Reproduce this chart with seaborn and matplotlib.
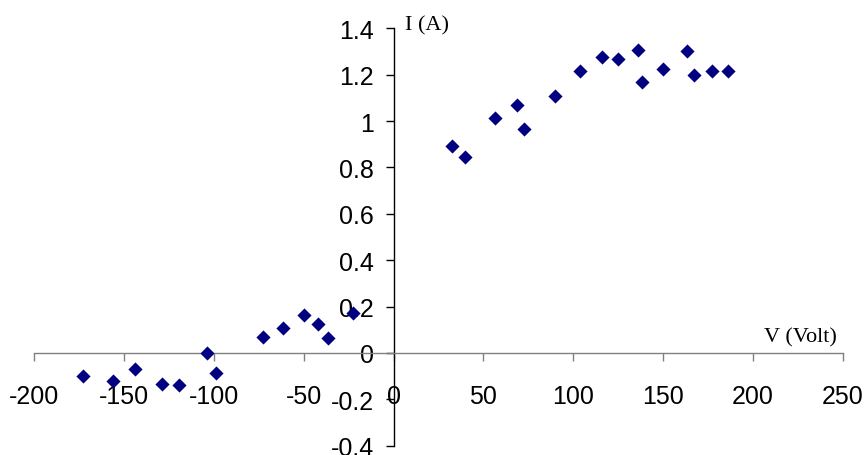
import numpy as np
import pandas as pd
import matplotlib
matplotlib.use('Agg')
import matplotlib.pyplot as plt
import seaborn as sns

voltage = [-172.9, -155.9, -144.0, -128.9, -119.5, -103.7, -98.6, -72.6, -61.6,
           -49.8, -42.3, -36.2, -22.3, 32.6, 39.8, 56.7, 68.6, 72.7, 89.8,
           103.8, 115.7, 124.8, 135.7, 138.0, 149.9, 163.0, 166.9, 176.9, 186.0]
current = [-0.100, -0.122, -0.069, -0.132, -0.139, 0.000, -0.085, 0.069, 0.106,
           0.162, 0.124, 0.063, 0.171, 0.891, 0.843, 1.014, 1.068, 0.967, 1.106,
           1.215, 1.277, 1.268, 1.307, 1.168, 1.223, 1.300, 1.198, 1.215, 1.215]

x_ticks = [-200, -150, -100, -50, 0, 50, 100, 150, 200, 250]
x_tick_labels = ['-200', '-150', '-100', '-50', '0', '50', '100', '150', '200', '250']
y_ticks = [-0.4, -0.2, 0, 0.2, 0.4, 0.6, 0.8, 1.0, 1.2, 1.4]
y_tick_labels = ['-0.4', '-0.2', '0', '0.2', '0.4', '0.6', '0.8', '1', '1.2', '1.4']

df = pd.DataFrame({'V': voltage, 'I': current})

sns.set_style('white')
plt.rcParams['font.family'] = ['Liberation Sans', 'DejaVu Sans']

fig = plt.figure(figsize=(8.66, 4.56), dpi=100)
ax = fig.add_axes([34 / 866, 9.3 / 456, 809 / 866, 417.4 / 456])

sns.scatterplot(data=df, x='V', y='I', marker='D', s=52, color='#000080',
                linewidth=0, ax=ax, legend=False, zorder=3, clip_on=False)

ax.set_xlim(-200, 250)
ax.set_ylim(-0.4, 1.4)
ax.set_xticks(x_ticks)
ax.set_xticklabels(x_tick_labels)
ax.set_yticks(y_ticks)
ax.set_yticklabels(y_tick_labels)

# axes crossing at the origin
ax.spines['left'].set_position(('data', 0))
ax.spines['bottom'].set_position(('data', 0))
ax.spines['top'].set_visible(False)
ax.spines['right'].set_visible(False)
ax.spines['left'].set_color('black')
ax.spines['left'].set_linewidth(1.0)
ax.spines['bottom'].set_color('#808080')
ax.spines['bottom'].set_linewidth(1.0)

ax.tick_params(axis='x', direction='out', length=6, width=1, color='#808080',
               labelsize=18, labelcolor='black', pad=16, bottom=True)
ax.tick_params(axis='y', direction='out', length=6, width=1, color='black',
               labelsize=18, labelcolor='black', pad=8, left=True)
ax.set_xlabel('')
ax.set_ylabel('')

ax.text(6.5, 1.414, 'I (A)', family=['Liberation Serif', 'DejaVu Serif'],
        fontsize=16, color='black', ha='left', va='center')
ax.text(246.5, 0.069, 'V (Volt)', family=['Liberation Serif', 'DejaVu Serif'],
        fontsize=16, color='black', ha='right', va='center')

fig.savefig('out.png', dpi=100)
